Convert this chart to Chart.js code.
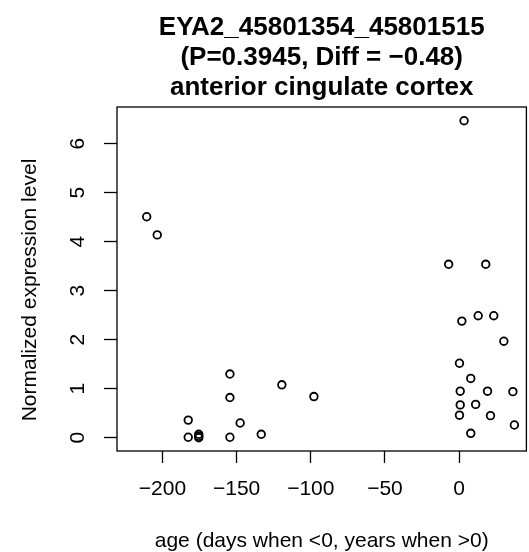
<!DOCTYPE html>
<html>
<head>
<meta charset="utf-8">
<script src="https://cdn.jsdelivr.net/npm/chart.js@4"></script>
<style>
  html, body { margin: 0; padding: 0; overflow: hidden; background: #fff; }
  canvas { display: block; }
</style>
</head>
<body>
<canvas id="exprChart" width="532" height="552"></canvas>
<script>
const titleLines = [
  "EYA2_45801354_45801515",
  "(P=0.3945, Diff = \u22120.48)",
  "anterior cingulate cortex"
];
const xLabel = "age (days when <0, years when >0)";
const yLabel = "Normalized expression level";

// sample ages (days before birth are negative, years after birth positive)
const ageValues = [
  -210.6, -203.5, -182.6, -182.6, -175.5, -175.5, -175.5,
  -154.5, -154.5, -147.6, -154.5, -133.4, -119.5, -97.9,
  3.3, -7.1, 17.9, 1.8, 12.8, 23.3, 30.1, 0.2, 7.8,
  0.7, 19.1, 36.2, 0.7, 11.1, 0.2, 21.1, 37.2, 7.8
];
const exprValues = [
  4.51, 4.14, 0.36, 0.01, 0.07, 0.03, 0.0,
  1.30, 0.82, 0.30, 0.01, 0.07, 1.08, 0.84,
  6.47, 3.54, 3.54, 2.38, 2.49, 2.49, 1.97, 1.52, 1.21,
  0.95, 0.95, 0.94, 0.67, 0.68, 0.46, 0.45, 0.26, 0.09
];

const xTicks = [-200, -150, -100, -50, 0];
const yTicks = [0, 1, 2, 3, 4, 5, 6];

const fontFamily = "'Liberation Sans', Arial, Helvetica, sans-serif";

const fmtMinus = (v) => (v < 0 ? "\u2212" + Math.abs(v) : String(v));

const points = ageValues.map((a, i) => ({ x: a, y: exprValues[i] }));

// box around the plot, rotated y tick labels and y axis title (R style)
const rStylePlugin = {
  id: "rStyle",
  afterDraw(chart) {
    const { ctx, chartArea, scales } = chart;
    ctx.save();
    ctx.strokeStyle = "#000";
    ctx.lineWidth = 1.3;
    ctx.strokeRect(chartArea.left, chartArea.top,
      chartArea.right - chartArea.left, chartArea.bottom - chartArea.top);

    ctx.fillStyle = "#000";
    ctx.font = "21px " + fontFamily;
    ctx.textAlign = "center";
    ctx.textBaseline = "middle";
    yTicks.forEach((v) => {
      const py = scales.y.getPixelForValue(v);
      ctx.save();
      ctx.translate(78, py);
      ctx.rotate(-Math.PI / 2);
      ctx.fillText(fmtMinus(v), 0, 0);
      ctx.restore();
    });

    ctx.save();
    ctx.translate(30, 290);
    ctx.rotate(-Math.PI / 2);
    ctx.fillText(yLabel, 0, 0);
    ctx.restore();
    ctx.restore();
  }
};

Chart.defaults.color = "#000";
Chart.defaults.font.family = fontFamily;

new Chart(document.getElementById("exprChart"), {
  type: "scatter",
  data: {
    datasets: [
      {
        data: points,
        pointStyle: "circle",
        pointRadius: 3.8,
        pointBorderWidth: 1.8,
        borderColor: "#000",
        backgroundColor: "rgba(0,0,0,0)",
        pointHoverRadius: 3.8
      }
    ]
  },
  options: {
    responsive: false,
    animation: false,
    events: [],
    layout: { padding: 0 },
    plugins: {
      legend: { display: false },
      tooltip: { enabled: false },
      title: {
        display: true,
        text: titleLines,
        fullSize: false,
        color: "#000",
        font: { family: fontFamily, size: 26, weight: "bold", lineHeight: "30px" },
        padding: { top: 13, bottom: 4 }
      }
    },
    scales: {
      x: {
        type: "linear",
        min: -230.6,
        max: 45.3,
        afterFit: (scale) => { scale.height = 101; },
        afterBuildTicks: (scale) => { scale.ticks = xTicks.map((v) => ({ value: v })); },
        border: { display: false },
        grid: {
          drawOnChartArea: false,
          drawTicks: true,
          tickLength: 12,
          tickWidth: 1.3,
          tickColor: "#000",
          color: "#000"
        },
        ticks: {
          padding: 14,
          maxRotation: 0,
          font: { size: 21 },
          callback: (v) => fmtMinus(v)
        },
        title: {
          display: true,
          text: xLabel,
          font: { size: 21 },
          padding: { top: 0, bottom: -2 }
        }
      },
      y: {
        type: "linear",
        min: -0.271,
        max: 6.75,
        afterFit: (scale) => { scale.width = 117; },
        afterBuildTicks: (scale) => { scale.ticks = yTicks.map((v) => ({ value: v })); },
        border: { display: false },
        grid: {
          drawOnChartArea: false,
          drawTicks: true,
          tickLength: 13,
          tickWidth: 1.3,
          tickColor: "#000",
          color: "#000"
        },
        ticks: { display: false },
        title: { display: false }
      }
    }
  },
  plugins: [rStylePlugin]
});
</script>
</body>
</html>
